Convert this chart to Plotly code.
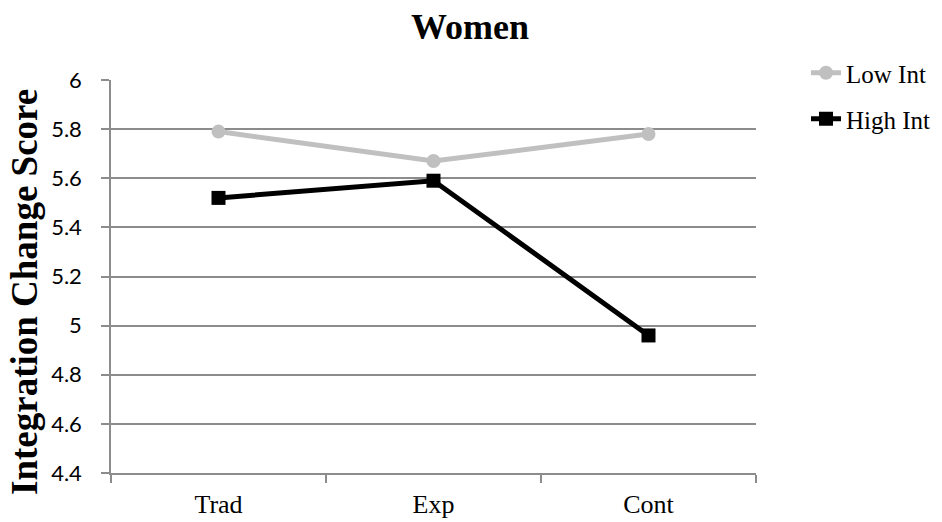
import plotly.graph_objects as go

categories = ["Trad", "Exp", "Cont"]
low_int = [5.79, 5.67, 5.78]
high_int = [5.52, 5.59, 4.96]
y_ticks = [4.4, 4.6, 4.8, 5.0, 5.2, 5.4, 5.6, 5.8, 6.0]
y_tick_labels = ["4.4", "4.6", "4.8", "5", "5.2", "5.4", "5.6", "5.8", "6"]

# The page body has an 8px margin, so the figure is drawn 8px to the right
# and 8px down; all screen targets below are converted to figure pixels.
OFF = 8
W, H = 942 - OFF, 522 - OFF

def fx(p):  # screen x -> figure x
    return p - OFF

def fy(p):  # screen y -> figure y
    return p - OFF

L = fx(111)
T = fy(80)
R = W - fx(756)
B = H - fy(473)
pw, ph = W - L - R, H - T - B

def paper_x(p):
    return (fx(p) - L) / pw

def paper_y(p):
    return (H - B - fy(p)) / ph

serif = "Liberation Serif"
grid = "#8c8c8c"

fig = go.Figure()
fig.add_trace(go.Scatter(
    x=categories, y=low_int, name="Low Int", mode="lines+markers",
    line=dict(color="#c0c0c0", width=5),
    marker=dict(symbol="circle", size=14, color="#c0c0c0"),
    legend="legend",
))
fig.add_trace(go.Scatter(
    x=categories, y=high_int, name="High Int", mode="lines+markers",
    line=dict(color="#000000", width=5),
    marker=dict(symbol="square", size=14, color="#000000"),
    legend="legend2",
))

legend_font = dict(family=serif, size=25, color="black")

fig.update_layout(
    width=W, height=H,
    margin=dict(l=L, r=R, t=T, b=B, autoexpand=False),
    paper_bgcolor="white", plot_bgcolor="white",
    title=dict(text="<b>Women</b>", x=fx(470) / W, xanchor="center",
               y=1 - fy(26) / H, yanchor="middle",
               font=dict(family=serif, size=36, color="black")),
    showlegend=True,
    legend=dict(xref="container", yref="container",
                x=fx(806) / W, xanchor="left", y=1 - fy(73) / H, yanchor="middle",
                font=legend_font, bgcolor="rgba(0,0,0,0)", borderwidth=0),
    legend2=dict(xref="container", yref="container",
                 x=fx(806) / W, xanchor="left", y=1 - fy(119) / H, yanchor="middle",
                 font=legend_font, bgcolor="rgba(0,0,0,0)", borderwidth=0),
    xaxis=dict(
        type="category", tickson="boundaries", range=[-0.5, 2.5],
        showline=True, linecolor=grid, linewidth=1.5,
        ticks="outside", ticklen=8, tickcolor=grid, tickwidth=1.5,
        showgrid=False, zeroline=False, automargin=False,
        tickfont=dict(family=serif, size=26, color="black"),
        ticklabelstandoff=7,
    ),
    yaxis=dict(
        range=[4.4, 6.0], tickvals=y_ticks, ticktext=y_tick_labels,
        showline=True, linecolor=grid, linewidth=1.5,
        ticks="outside", ticklen=8, tickcolor=grid, tickwidth=1.5,
        showgrid=True, gridcolor=grid, gridwidth=1.5, zeroline=False,
        automargin=False,
        tickfont=dict(family="Lato", size=22, color="black"),
        ticklabelstandoff=15,
    ),
    annotations=[dict(
        text="<b>Integration Change Score</b>", textangle=-90,
        xref="paper", yref="paper", x=paper_x(24), y=paper_y(292),
        xanchor="center", yanchor="middle", showarrow=False,
        font=dict(family=serif, size=37, color="black"),
    )],
)

fig.write_html("out.html")
